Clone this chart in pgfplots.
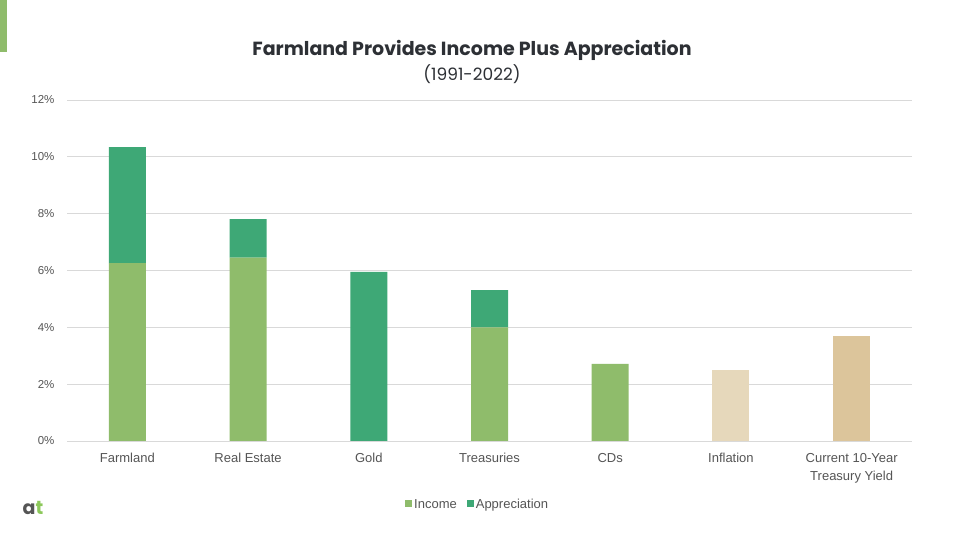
\documentclass[border=0pt]{standalone}
\usepackage{fontspec}
\setmainfont{Liberation Sans}
\newfontfamily\poppins{Poppins}
\usepackage{pgfplots}
\pgfplotsset{compat=1.18}
\definecolor{inc}{HTML}{8FBC6B}
\definecolor{app}{HTML}{3EA876}
\definecolor{infl}{HTML}{E6D8BB}
\definecolor{yld}{HTML}{DCC59B}
\definecolor{titlec}{HTML}{2D3035}
\definecolor{tickc}{HTML}{555555}
\definecolor{gridc}{HTML}{D9D9D9}
\definecolor{logog}{HTML}{8CC85A}
\begin{document}
\begin{tikzpicture}
\path[use as bounding box, fill=white] (0pt,0pt) rectangle (960pt,540pt);
\fill[inc] (0pt,488pt) rectangle (7pt,540pt);
\node[font=\poppins\bfseries\fontsize{19}{22}\selectfont, text=titlec] at (472pt,490pt) {Farmland Provides Income Plus Appreciation};
\node[font=\poppins\fontsize{17}{20}\selectfont, text=titlec] at (472pt,466pt) {(1991-2022)};
\node[font=\poppins\bfseries\fontsize{19}{22}\selectfont, inner sep=0pt] at (33pt,32pt) {\textcolor{tickc}{a}\textcolor{logog}{t}};
\begin{axis}[
  at={(67pt,99pt)}, anchor=south west, scale only axis,
  width=845pt, height=341pt,
  xmin=-0.5, xmax=6.5, ymin=0, ymax=12,
  ybar stacked, bar width=37pt,
  axis line style={draw=none},
  tick style={draw=none},
  ymajorgrids, grid style={gridc, line width=0.8pt},
  ytick={0,2,4,6,8,10,12},
  yticklabel={\pgfmathprintnumber{\tick}\%},
  /pgf/number format/assume math mode=true,
  yticklabel style={font=\fontsize{11.5}{13}\selectfont, text=tickc, xshift=-9pt},
  xtick={0,1,2,3,4,5,6},
  xticklabels={Farmland,Real Estate,Gold,Treasuries,CDs,Inflation,{Current 10-Year\\Treasury Yield}},
  xticklabel style={font=\fontsize{13}{18}\selectfont, text=tickc, align=center, anchor=north, yshift=-9pt},
  legend style={at={(0.486,-0.19)}, anchor=center, draw=none, legend columns=2,
    font=\fontsize{13}{15}\selectfont, text=tickc,
    nodes={text height=9pt, text depth=3pt},
    /tikz/every even column/.append style={column sep=8pt}},
  legend image code/.code={\fill[#1] (0pt,-1.5pt) rectangle (7pt,5.5pt);},
]
\addplot[fill=inc, draw=none] coordinates {(0,6.26) (1,6.45) (2,0) (3,4.0) (4,2.71) (5,0) (6,0)};
\addplot[fill=app, draw=none] coordinates {(0,4.08) (1,1.36) (2,5.95) (3,1.31) (4,0) (5,0) (6,0)};
\addplot[fill=infl, draw=none] coordinates {(0,0) (1,0) (2,0) (3,0) (4,0) (5,2.50) (6,0)};
\addplot[fill=yld, draw=none] coordinates {(0,0) (1,0) (2,0) (3,0) (4,0) (5,0) (6,3.69)};
\legend{Income,Appreciation}
\end{axis}
\end{tikzpicture}
\end{document}
